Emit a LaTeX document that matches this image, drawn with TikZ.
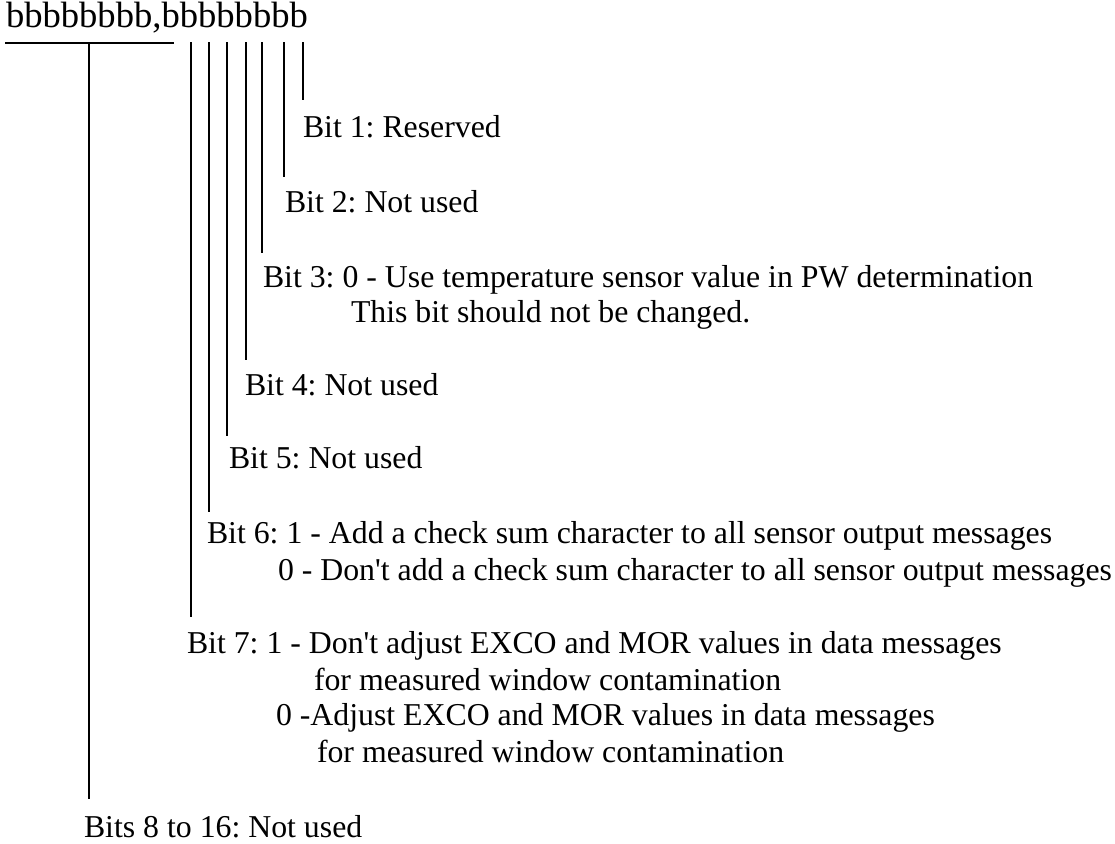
\documentclass[tikz,border=0pt]{standalone}
\usepackage{fontspec}
\setmainfont{Liberation Serif}[Ligatures=TeXOff]
\usetikzlibrary{positioning}
\frenchspacing

\begin{document}
\begin{tikzpicture}[
    % one unit is one pixel of the drawing
    x=0.5pt, y=-0.5pt,
    % line thickness
    line width=1pt,
    txt/.style = {anchor=base west, inner sep=0pt, font=\fontsize{15.9}{18}\selectfont},
    head/.style = {anchor=base west, inner sep=0pt, font=\fontsize{18.3}{20}\selectfont},
    tick/.style = {draw=black, line width=1pt}
    ]

    \useasboundingbox (0,0) rectangle (1115,843);

    % bar under the first byte
    \coordinate (BarL) at (5,43);
    \coordinate (BarR) at (174,43);
    \coordinate (BarM) at (89,43);
    \coordinate (E8) at (89,799);

    % tops of the bit ticks
    \coordinate (T7) at (191,42);
    \coordinate (T6) at (209,42);
    \coordinate (T5) at (227,42);
    \coordinate (T4) at (246,42);
    \coordinate (T3) at (262,42);
    \coordinate (T2) at (284,42);
    \coordinate (T1) at (303,42);

    % lower ends of the bit ticks
    \coordinate (E7) at (191,617);
    \coordinate (E6) at (209,512);
    \coordinate (E5) at (227,436);
    \coordinate (E4) at (246,360);
    \coordinate (E3) at (262,253);
    \coordinate (E2) at (284,177);
    \coordinate (E1) at (303,100);

    % nodes
    \node (Word) [head] at (5,27) {bbbbbbbb,bbbbbbbb};

    \node (Bit1)  [txt] at (302,137) {Bit 1: Reserved};
    \node (Bit2)  [txt] at (284,212) {Bit 2: Not used};
    \node (Bit3)  [txt] at (262,287) {Bit 3: 0 - Use temperature sensor value in PW determination};
    \node (Bit3b) [txt] at (350,322) {This bit should not be changed.};
    \node (Bit4)  [txt] at (244,395) {Bit 4: Not used};
    \node (Bit5)  [txt] at (228,468) {Bit 5: Not used};
    \node (Bit6)  [txt] at (206,543) {Bit 6: 1 - Add a check sum character to all sensor output messages};
    \node (Bit6b) [txt] at (277,580) {0 - Don't add a check sum character to all sensor output messages};
    \node (Bit7)  [txt] at (186,653) {Bit 7: 1 - Don't adjust EXCO and MOR values in data messages};
    \node (Bit7b) [txt] at (313,690) {for measured window contamination};
    \node (Bit7c) [txt] at (275,725) {0 -Adjust EXCO and MOR values in data messages};
    \node (Bit7d) [txt] at (316,762) {for measured window contamination};
    \node (Bit8)  [txt] at (83,837) {Bits 8 to 16: Not used};

    % ticks
    \path[tick] (BarL) -- (BarR);
    \path[tick] (BarM) -- (E8);

    \path[tick] (T1) -- (E1);
    \path[tick] (T2) -- (E2);
    \path[tick] (T3) -- (E3);
    \path[tick] (T4) -- (E4);
    \path[tick] (T5) -- (E5);
    \path[tick] (T6) -- (E6);
    \path[tick] (T7) -- (E7);
\end{tikzpicture}
\end{document}
